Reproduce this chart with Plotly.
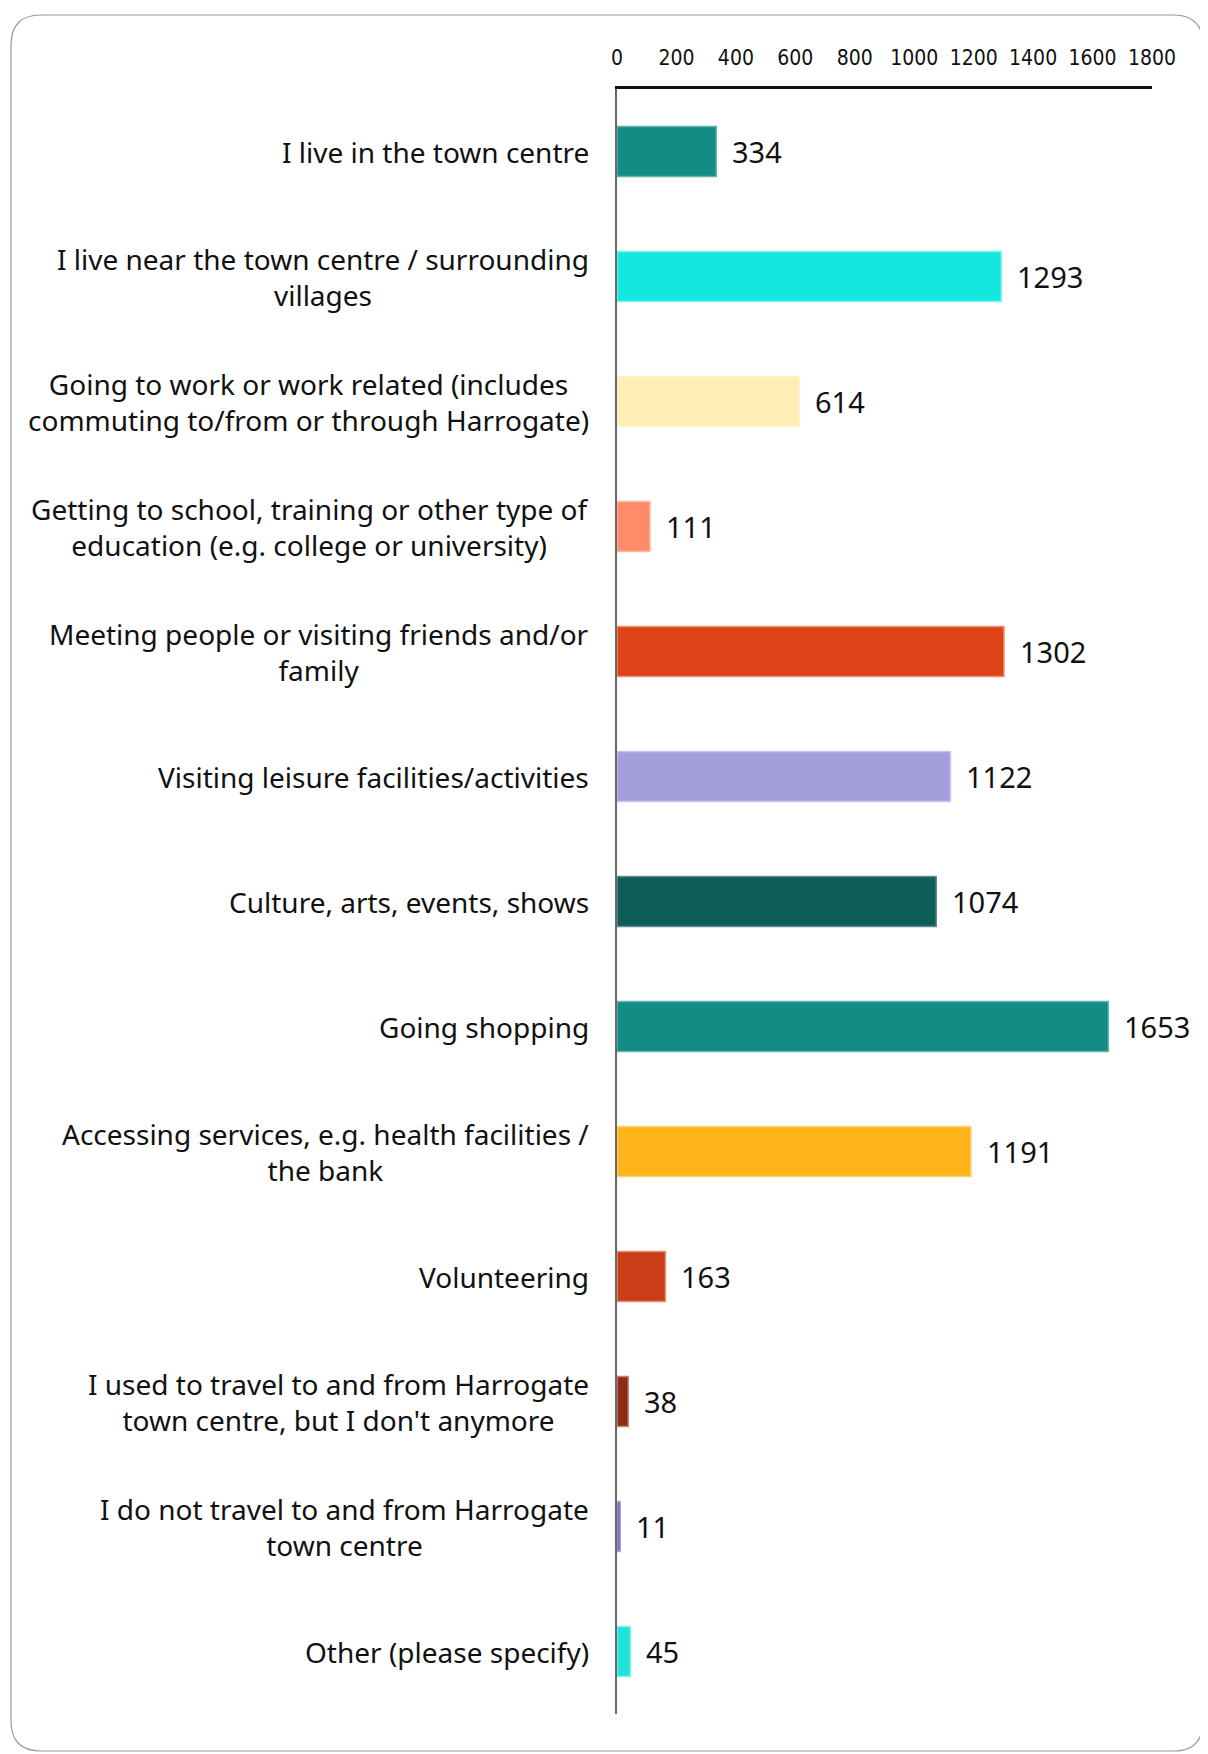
import plotly.graph_objects as go

# reasons for travelling to the town centre (top to bottom)
categories = [
    'I live in the town centre',
    'I live near the town centre / surrounding<br>villages',
    'Going to work or work related (includes<br>commuting to/from or through Harrogate)',
    'Getting to school, training or other type of<br>education (e.g. college or university)',
    'Meeting people or visiting friends and/or<br>family',
    'Visiting leisure facilities/activities',
    'Culture, arts, events, shows',
    'Going shopping',
    'Accessing services, e.g. health facilities /<br>the bank',
    'Volunteering',
    "I used to travel to and from Harrogate<br>town centre, but I don't anymore",
    'I do not travel to and from Harrogate<br>town centre',
    'Other (please specify)',
]
counts = [334, 1293, 614, 111, 1302, 1122, 1074, 1653, 1191, 163, 38, 11, 45]
bar_colors = ['#138C83', '#14E8DE', '#FEEDB4', '#FF8B6A', '#DE4318', '#A59EDD',
              '#0E5E58', '#138C83', '#FDB51A', '#CB3D17', '#8E2B13', '#6E63C6',
              '#1FE2D9']
outline_colors = ['#5FB5AE', '#7FF2EC', '#FFF3D0', '#FFB8A4', '#F08E72', '#C9C4EE',
                  '#5E8F8B', '#5FB5AE', '#FED27A', '#E79077', '#C08A7E', '#A9A3E0',
                  '#7FF2EC']
x_ticks = [0, 200, 400, 600, 800, 1000, 1200, 1400, 1600, 1800]

font_main = 'Noto Sans'
# page has an 8px body margin, so the figure is a bit smaller than the window
W, H = 1200, 1746
L, R, T, B = 609, 56, 81, 40

fig = go.Figure(go.Bar(
    x=counts,
    y=categories,
    orientation='h',
    marker=dict(color=bar_colors, line=dict(color=outline_colors, width=1.5)),
    cliponaxis=False,
    hoverinfo='x+y',
))

# value labels next to bars
for cat, val in zip(categories, counts):
    fig.add_annotation(x=val, y=cat, xref='x', yref='y', text=str(val),
                       showarrow=False, xanchor='left', xshift=14,
                       font=dict(family=font_main, size=29, color='#111'))

# category labels, centred lines, right edge by the axis
for cat in categories:
    fig.add_annotation(x=0, y=cat, xref='paper', yref='y', text=cat,
                       showarrow=False, xanchor='right', align='center',
                       xshift=-26,
                       font=dict(family=font_main, size=28, color='#111'))

# rounded frame around the chart
pw, ph = W - L - R, H - T - B
def px(v):
    return (v - L) / pw
def py(v):
    return 1 - (v - T) / ph
x0, x1, y0, y1, rr = 3, 1195, 7, 1743, 30
path = (f'M {px(x0 + rr)},{py(y0)} L {px(x1 - rr)},{py(y0)} '
        f'Q {px(x1)},{py(y0)} {px(x1)},{py(y0 + rr)} '
        f'L {px(x1)},{py(y1 - rr)} Q {px(x1)},{py(y1)} {px(x1 - rr)},{py(y1)} '
        f'L {px(x0 + rr)},{py(y1)} Q {px(x0)},{py(y1)} {px(x0)},{py(y1 - rr)} '
        f'L {px(x0)},{py(y0 + rr)} Q {px(x0)},{py(y0)} {px(x0 + rr)},{py(y0)} Z')
fig.add_shape(type='path', path=path, xref='paper', yref='paper',
              line=dict(color='#9A9A9A', width=1.2), layer='below')

fig.update_layout(
    width=W, height=H,
    margin=dict(l=L, r=R, t=T, b=B),
    paper_bgcolor='white', plot_bgcolor='white',
    bargap=0.6,
    showlegend=False,
    xaxis=dict(side='top', range=[0, 1800], tickvals=x_ticks,
               showgrid=False, zeroline=False,
               showline=True, linecolor='#111', linewidth=3,
               ticks='', ticklen=0, ticklabelstandoff=13,
               tickfont=dict(family='DejaVu Sans Condensed', size=21, color='#111'),
               fixedrange=True),
    yaxis=dict(autorange='reversed', showticklabels=False, showgrid=False,
               zeroline=False, showline=True, linecolor='#666', linewidth=2,
               ticks='', fixedrange=True),
)

fig.write_html('out.html')
